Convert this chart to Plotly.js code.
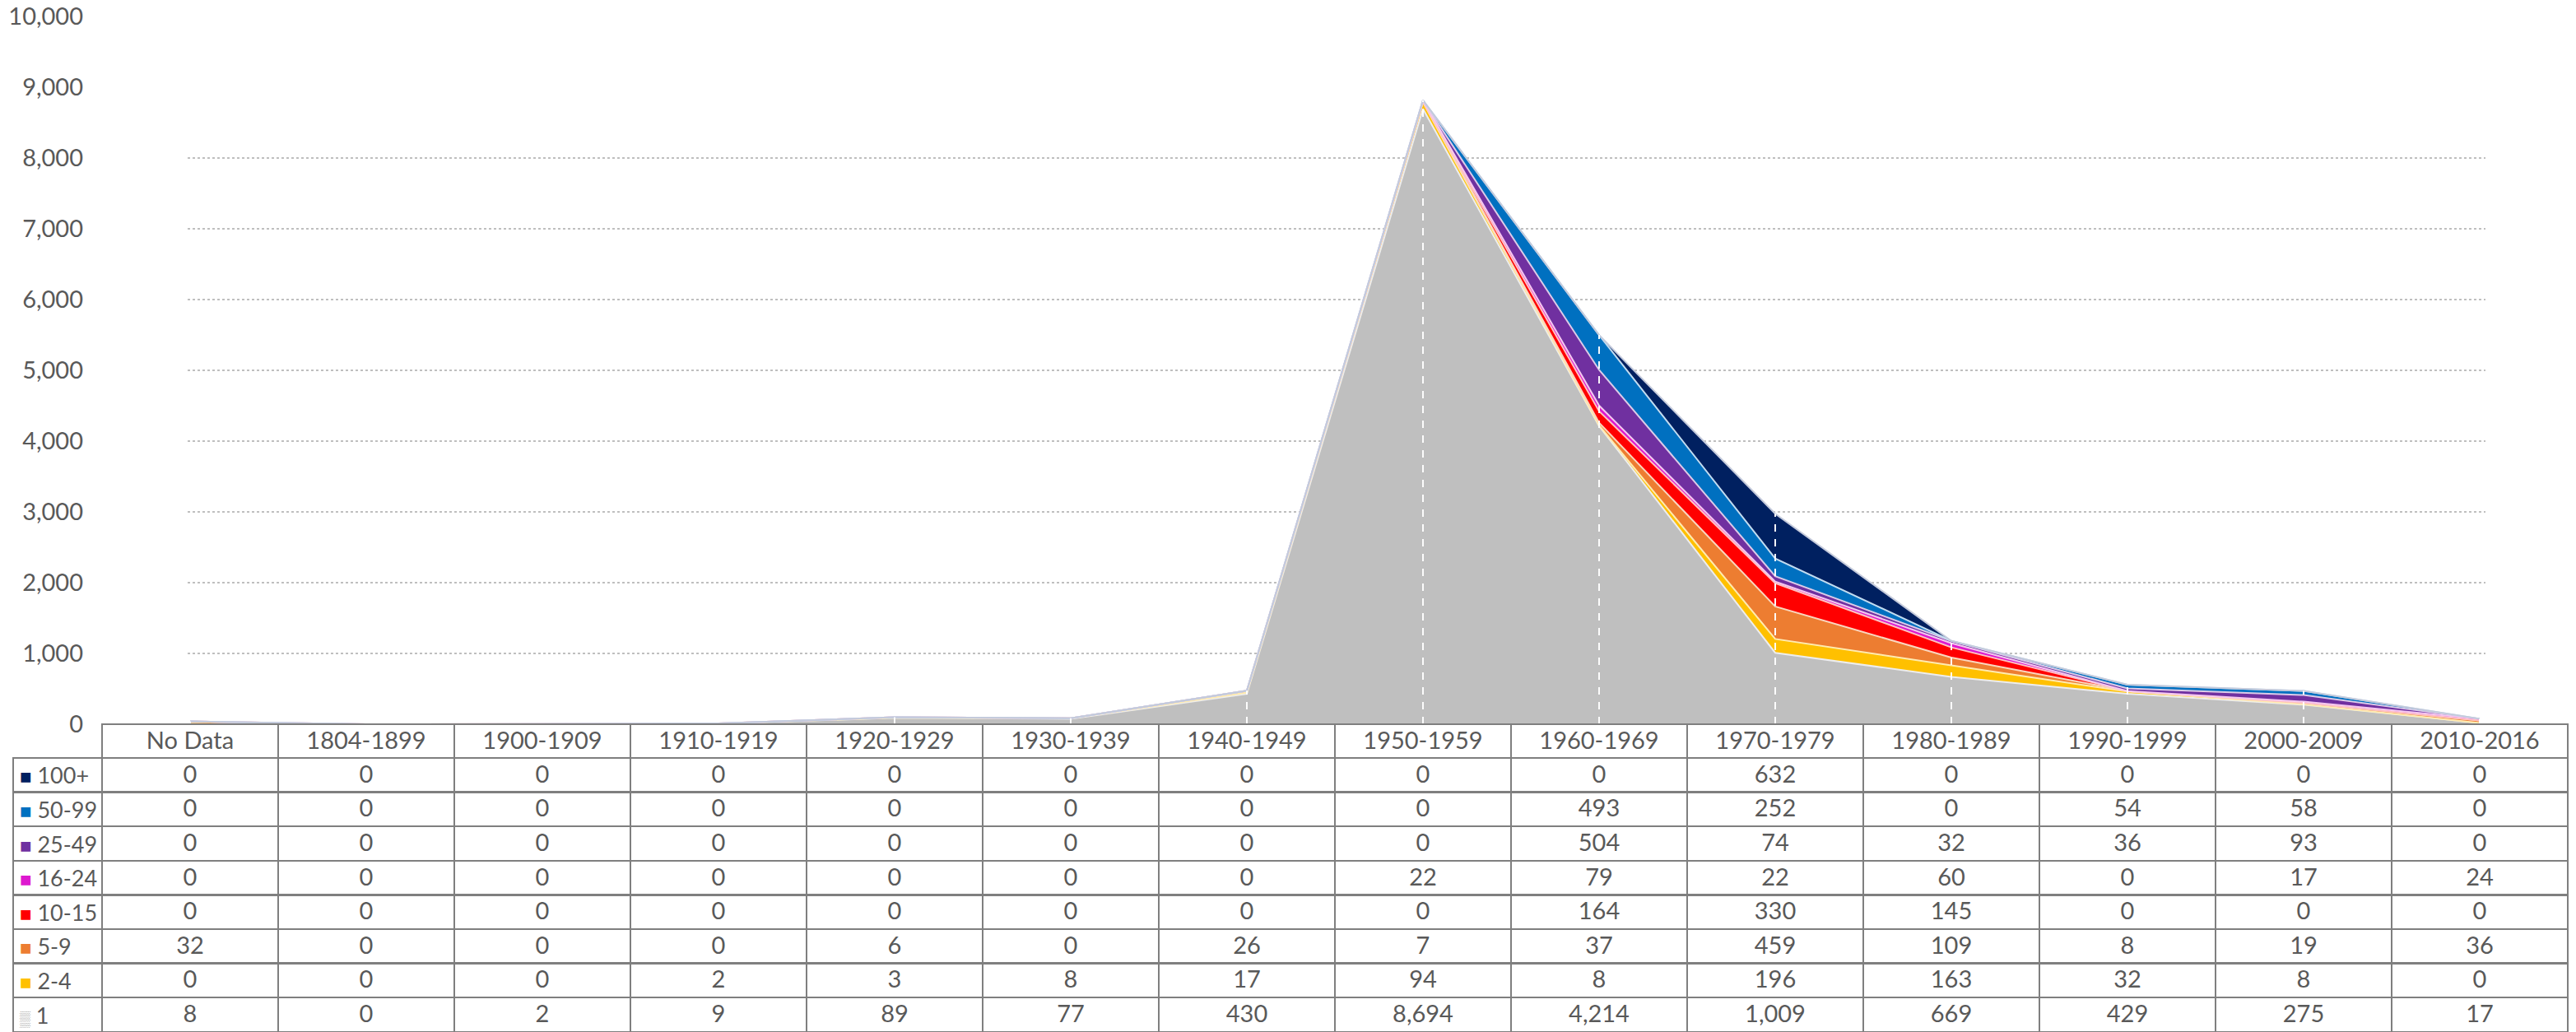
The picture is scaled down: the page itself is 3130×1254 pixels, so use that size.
<!DOCTYPE html>
<html><head><meta charset="utf-8">
<script src="https://cdn.plot.ly/plotly-3.0.1.min.js"></script>
<style>html,body{margin:0;padding:0;background:#fff;}#chart{width:3130px;height:1254px;}</style>
</head><body><div id="chart"></div>
<script>
const categories = ['No Data','1804-1899','1900-1909','1910-1919','1920-1929','1930-1939','1940-1949','1950-1959','1960-1969','1970-1979','1980-1989','1990-1999','2000-2009','2010-2016'];
const s100plus = [0,0,0,0,0,0,0,0,0,632,0,0,0,0];
const s50_99   = [0,0,0,0,0,0,0,0,493,252,0,54,58,0];
const s25_49   = [0,0,0,0,0,0,0,0,504,74,32,36,93,0];
const s16_24   = [0,0,0,0,0,0,0,22,79,22,60,0,17,24];
const s10_15   = [0,0,0,0,0,0,0,0,164,330,145,0,0,0];
const s5_9     = [32,0,0,0,6,0,26,7,37,459,109,8,19,36];
const s2_4     = [0,0,0,2,3,8,17,94,8,196,163,32,8,0];
const s1       = [8,0,2,9,89,77,430,8694,4214,1009,669,429,275,17];
const seriesNames = ['100+','50-99','25-49','16-24','10-15','5-9','2-4','1'];
const yTickVals = [0,1000,2000,3000,4000,5000,6000,7000,8000,9000,10000];
const gridVals = [1000,2000,3000,4000,5000,6000,7000,8000];

const seriesData = [s100plus,s50_99,s25_49,s16_24,s10_15,s5_9,s2_4,s1];
const fillColors = ['#002060','#0070C0','#7030A0','#DD19CF','#FF0000','#ED7D31','#FFC000','#BFBFBF'];
const edgeColors = ['#C4CADB','#C2DCF0','#DCCBE8','#F5C8F0','#FFC2C2','#FAD6BE','#FFEBB0','#EDEDED'];

const FONT = 'Lato, "Open Sans", sans-serif';
const TXT = '#595959';
const FS = 29;
const W = 3130, H = 1254;
const HEADER_TOP = 880, HEADER_H = 41, ROW_H = 41.6;
const xs = categories.map((c,i)=>i);

const traces = [];
// stacked areas, bottom series first
for (let k = seriesData.length-1; k >= 0; k--) {
  traces.push({
    type:'scatter', mode:'lines', x: xs, y: seriesData[k], name: seriesNames[k],
    stackgroup:'one', fillcolor: fillColors[k],
    line:{color: edgeColors[k], width:2, shape:'linear'},
    hoverinfo:'skip', showlegend:false
  });
}
// drop lines from axis up to stack total
const totals = xs.map(i => seriesData.reduce((a,s)=>a+s[i],0));
const dx = [], dy = [];
xs.forEach(i => { dx.push(i,i,null); dy.push(0,totals[i],null); });
traces.push({type:'scatter', mode:'lines', x:dx, y:dy, line:{color:'rgba(255,255,255,0.95)', width:2, dash:'dash'}, hoverinfo:'skip', showlegend:false});

// data table (label column text is drawn by annotations so the colour keys work)
const cellCols = [seriesNames.map(()=> '')];
categories.forEach((c,i) => cellCols.push(seriesData.map(s => s[i].toLocaleString('en-US'))));
const headerVals = [''].concat(categories);
traces.push({
  type:'table',
  domain:{x:[16/W, 3120/W], y:[0, (H-HEADER_TOP)/H]},
  columnwidth:[108].concat(categories.map(()=>214)),
  header:{values: headerVals, align:'center', height:HEADER_H,
    font:{family:FONT, size:FS, color:TXT},
    fill:{color: headerVals.map((v,i)=> i===0 ? 'rgba(0,0,0,0)' : '#ffffff')},
    line:{color:'#7F7F7F', width: headerVals.map((v,i)=> i===0 ? 0 : 2.5)}},
  cells:{values: cellCols, align:'center', height:ROW_H,
    font:{family:FONT, size:FS, color:TXT}, fill:{color:'#ffffff'},
    line:{color:'#7F7F7F', width:2.5}}
});

const annotations = seriesNames.map((n,k) => ({
  xref:'paper', yref:'paper', x: 22/W, xanchor:'left',
  y: 1 - (HEADER_TOP + HEADER_H + ROW_H*k + ROW_H/2)/H, yanchor:'middle',
  text: (k === seriesNames.length-1
    ? '<span style="color:#A6A6A6;font-size:18px">▒</span> '
    : '<span style="color:' + fillColors[k] + ';font-size:24px">■</span> ') + n,
  showarrow:false, font:{family:FONT, size:27, color:TXT}
}));

const shapes = gridVals.map(v => ({type:'line', xref:'x domain', x0:0, x1:1, yref:'y', y0:v, y1:v,
  line:{color:'#BFBFBF', width:2, dash:'dot'}, layer:'below'}));

const layout = {
  width:W, height:H, margin:{l:0,r:0,t:0,b:0},
  paper_bgcolor:'#ffffff', plot_bgcolor:'rgba(0,0,0,0)',
  showlegend:false,
  font:{family:FONT, size:FS, color:TXT},
  xaxis:{domain:[228/W, 3020/W], range:[(228-231)/214, (3020-231)/214], showgrid:false, zeroline:false,
    showticklabels:false, ticks:'', showline:false, fixedrange:true},
  yaxis:{domain:[1-HEADER_TOP/H, 1-20/H], range:[0,10000], tickvals:yTickVals, tickformat:',d',
    showgrid:false, zeroline:false, showline:false, ticks:'', ticklabelstandoff:126,
    tickfont:{family:FONT, size:FS, color:TXT}, fixedrange:true},
  shapes: shapes,
  annotations: annotations
};
Plotly.newPlot('chart', traces, layout, {displayModeBar:false, staticPlot:true});
</script></body></html>
